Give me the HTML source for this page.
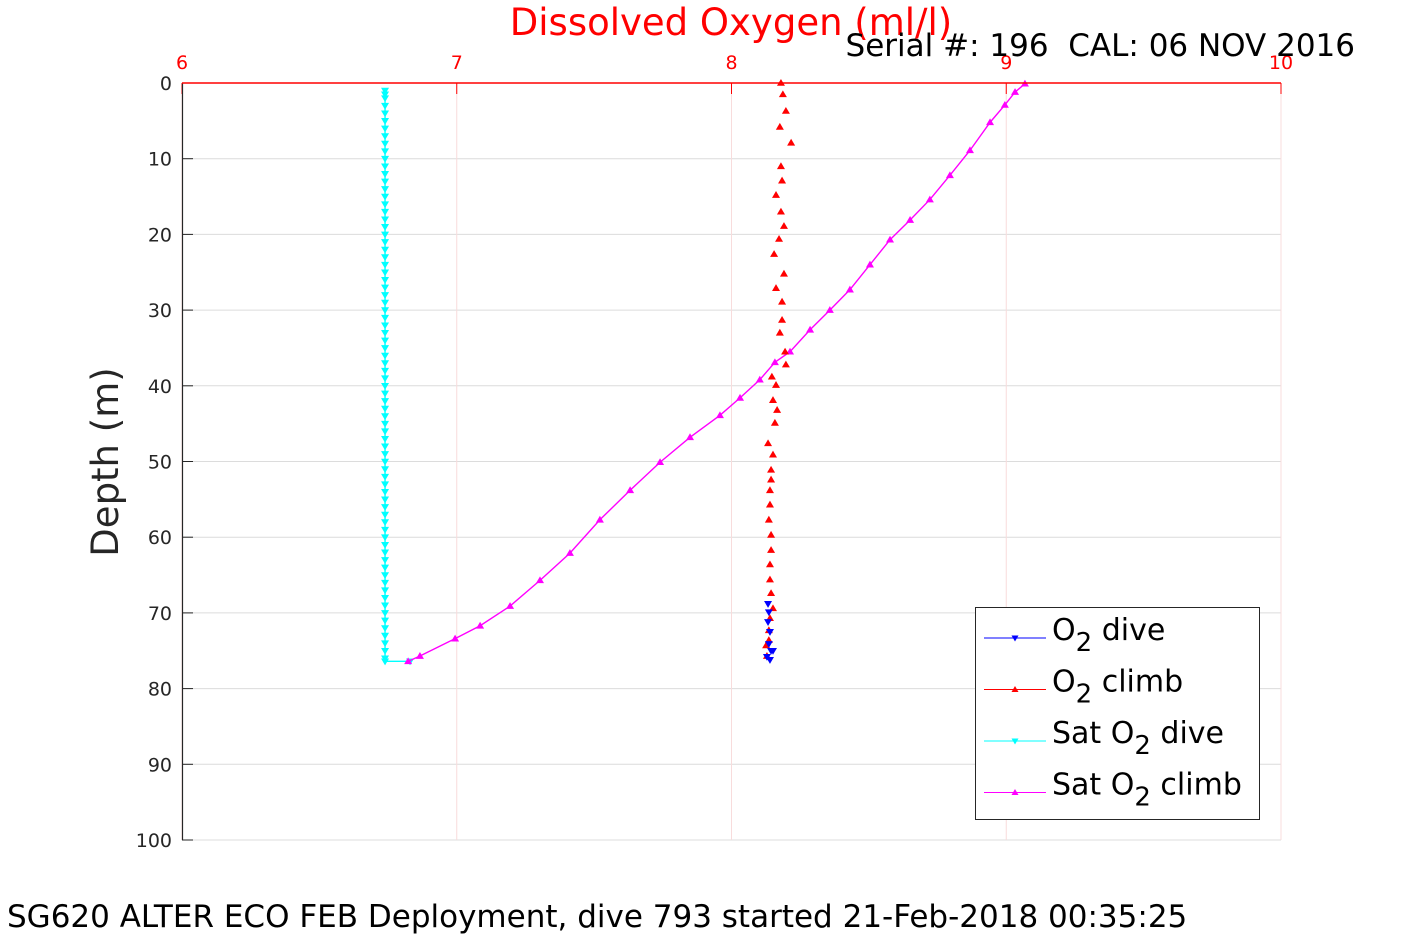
<!DOCTYPE html>
<html><head><meta charset="utf-8"><style>
body{margin:0;background:#fff;width:1417px;height:945px;overflow:hidden}
svg{display:block}
text{font-family:"DejaVu Sans","Liberation Sans",sans-serif}
</style></head><body>
<svg id="chart" width="1417" height="945" xmlns="http://www.w3.org/2000/svg">
<g id="grid"></g>
<g id="series"></g>
<g id="axes"></g>
<text x="731" y="35" text-anchor="middle" font-size="37" fill="#ff0000">Dissolved Oxygen (ml/l)</text>
<text x="1355" y="56" text-anchor="end" font-size="31" fill="#000">Serial #: 196&#160; CAL: 06 NOV 2016</text>
<text transform="translate(118,462) rotate(-90)" text-anchor="middle" font-size="37" fill="#262626">Depth (m)</text>
<text x="7" y="927" font-size="31" fill="#000">SG620 ALTER ECO FEB Deployment, dive 793 started 21-Feb-2018 00:35:25</text>
<g>
<rect x="975.5" y="607.5" width="284" height="212" fill="#fff" stroke="#262626" stroke-width="1"/>
<g id="legend-items"></g>
</g>
</svg>
<script>
const xTicks=[6,7,8,9,10];
const yTicks=[0,10,20,30,40,50,60,70,80,90,100];
const satClimbDepth=[76.4,75.7,73.4,71.7,69.1,65.7,62.1,57.7,53.8,50.1,46.8,43.9,41.6,39.2,36.9,35.5,32.6,30.0,27.3,24.0,20.7,18.1,15.4,12.2,8.9,5.2,2.9,1.2,0.1];
const satClimbO2=[6.823,6.866,6.994,7.085,7.194,7.303,7.412,7.521,7.631,7.740,7.849,7.958,8.031,8.103,8.158,8.213,8.286,8.358,8.431,8.504,8.577,8.650,8.722,8.795,8.868,8.941,8.995,9.032,9.068];
const satDiveDepth=[1,1.5,2,3,4,5,6,7,8,9,10,11,12,13,14,15,16,17,18,19,20,21,22,23,24,25,26,27,28,29,30,31,32,33,34,35,36,37,38,39,40,41,42,43,44,45,46,47,48,49,50,51,52,53,54,55,56,57,58,59,60,61,62,63,64,65,66,67,68,69,70,71,72,73,74,75,76,76.4,76.4];
const satDiveO2=[6.739,6.739,6.739,6.739,6.739,6.739,6.739,6.739,6.739,6.739,6.739,6.739,6.739,6.739,6.739,6.739,6.739,6.739,6.739,6.739,6.739,6.739,6.739,6.739,6.739,6.739,6.739,6.739,6.739,6.739,6.739,6.739,6.739,6.739,6.739,6.739,6.739,6.739,6.739,6.739,6.739,6.739,6.739,6.739,6.739,6.739,6.739,6.739,6.739,6.739,6.739,6.739,6.739,6.739,6.739,6.739,6.739,6.739,6.739,6.739,6.739,6.739,6.739,6.739,6.739,6.739,6.739,6.739,6.739,6.739,6.739,6.739,6.739,6.739,6.739,6.739,6.739,6.739,6.83];
const climbDepth=[0,1.5,3.7,5.8,7.9,11.0,12.9,14.8,17.0,18.9,20.6,22.6,25.2,27.1,28.9,31.3,33.0,35.5,37.2,38.8,39.9,41.9,43.2,44.9,47.6,49.1,51.1,52.4,53.8,55.7,57.7,59.7,61.7,63.6,65.6,67.4,69.4,70.7,72.3,73.6,74.3,75.7];
const climbO2=[8.180,8.187,8.198,8.176,8.217,8.180,8.184,8.162,8.180,8.191,8.173,8.155,8.191,8.162,8.184,8.184,8.176,8.195,8.198,8.147,8.162,8.151,8.166,8.158,8.133,8.151,8.144,8.144,8.140,8.140,8.136,8.144,8.144,8.140,8.140,8.144,8.151,8.140,8.136,8.136,8.126,8.129];
const diveDepth=[68.8,69.9,71.2,72.5,74.1,75.0,75.0,75.8,76.2];
const diveO2=[8.133,8.136,8.133,8.140,8.136,8.144,8.151,8.129,8.140];

const NS='http://www.w3.org/2000/svg';
const X0=182,X1=1281,Y0=83,Y1=840;
const xs=v=>X0+(v-6)/(10-6)*(X1-X0);
const ys=d=>Y0+d/100*(Y1-Y0);
function mk(tag,attrs,parent){const e=document.createElementNS(NS,tag);for(const k in attrs)e.setAttribute(k,attrs[k]);parent.appendChild(e);return e;}
const grid=document.getElementById('grid'),axes=document.getElementById('axes'),ser=document.getElementById('series');
yTicks.forEach(t=>{
  const l=mk('line',{x1:X0,x2:X1,y1:ys(t),y2:ys(t),stroke:'#dcdcdc','stroke-width':1},grid);
  
  
  const tk=mk('line',{x1:X0,x2:X0+11,y1:ys(t),y2:ys(t),stroke:'#262626','stroke-width':1},axes);
  
  
  const tx=mk('text',{x:172,y:ys(t)+7,'text-anchor':'end','font-size':19,fill:'#262626'},axes);
  tx.textContent=t;
  
  
});
xTicks.forEach(t=>{
  const l=mk('line',{x1:xs(t),x2:xs(t),y1:Y0,y2:Y1,stroke:'#f8dcdc','stroke-width':1},grid);
  
  
  const tk=mk('line',{x1:xs(t),x2:xs(t),y1:Y0,y2:Y0+11,stroke:'#ff0000','stroke-width':1},axes);
  
  
  const tx=mk('text',{x:xs(t),y:69,'text-anchor':'middle','font-size':19,fill:'#ff0000'},axes);
  tx.textContent=t;
  
  
});
const la=mk('line',{x1:X0+0.5,x2:X0+0.5,y1:Y0,y2:Y1,stroke:'#262626','stroke-width':1.2},axes);


const ta=mk('line',{x1:X0,x2:X1,y1:Y0,y2:Y0,stroke:'#ff0000','stroke-width':1.5},axes);



function tri(x,y,up,color,s){s=s||4;const p=up?`${x},${y-s} ${x-s},${y+s*0.7} ${x+s},${y+s*0.7}`:`${x},${y+s} ${x-s},${y-s*0.7} ${x+s},${y-s*0.7}`;return {points:p,fill:color};}
function series(name,vals,deps,color,up,line){
  const g=mk('g',{},ser);
  
  
  if(line){const pl=mk('polyline',{points:vals.map((v,i)=>xs(v)+','+ys(deps[i])).join(' '),fill:'none',stroke:color,'stroke-width':1.4},g);
    
    }
  vals.forEach((v,i)=>{const m=mk('polygon',tri(xs(v),ys(deps[i]),up,color),g);
    
    });
}
series('sat-o2-dive',satDiveO2,satDiveDepth,'#00ffff',false,true);
series('sat-o2-climb',satClimbO2,satClimbDepth,'#ff00ff',true,true);
series('o2-climb',climbO2,climbDepth,'#ff0000',true,false);
series('o2-dive',diveO2,diveDepth,'#0000ff',false,false);

const leg=document.getElementById('legend-items');
const items=[['O','2',' dive','#0000ff',false],['O','2',' climb','#ff0000',true],['Sat O','2',' dive','#00ffff',false],['Sat O','2',' climb','#ff00ff',true]];
items.forEach((it,i)=>{
  const y=638+i*51.5;
  const l=mk('line',{x1:984,x2:1046,y1:y,y2:y,stroke:it[3],'stroke-width':1},leg);
  
  
  const m=mk('polygon',tri(1015,y,it[4],it[3],3.5),leg);
  
  
  const t=mk('text',{x:1052,y:y+2,'font-size':30,fill:'#000'},leg);
  
  
  t.appendChild(document.createTextNode(it[0]));
  const s=mk('tspan',{dy:11,'font-size':26},t);s.textContent=it[1];
  const r=mk('tspan',{dy:-11},t);r.textContent=it[2];
});
</script>
</body></html>
